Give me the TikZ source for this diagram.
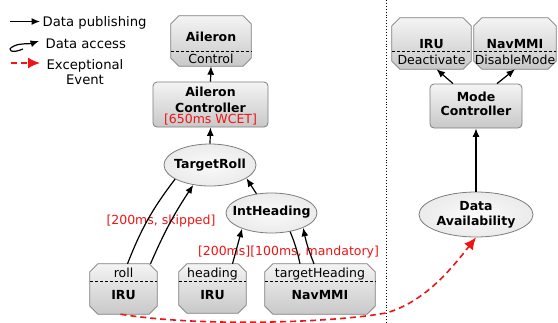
\documentclass[tikz,border=0pt]{standalone}
\usepackage{fontspec}
\setmainfont{DejaVu Sans}
\usetikzlibrary{shapes.geometric,arrows.meta}
\definecolor{edgegray}{RGB}{125,125,125}
\definecolor{shtop}{RGB}{244,244,244}
\definecolor{shbot}{RGB}{200,200,200}
\definecolor{exred}{RGB}{240,20,20}
\pgfdeclareradialshading{ellsh}{\pgfpoint{0bp}{0bp}}{color(0bp)=(gray!4); color(30bp)=(gray!18); color(50bp)=(gray!45)}
\newcommand\nf{\fontsize{12.5}{14}\selectfont}
\newcommand\lf{\fontsize{13.2}{15}\selectfont}
\newcommand\mkocto[5]{%
  \node[minimum width=#4pt, minimum height=#5pt, inner sep=0pt] (#1) at (#2,#3) {};
  \path[octbox] ([xshift=8pt]#1.north west) -- ([xshift=-8pt]#1.north east) -- ([yshift=-8pt]#1.north east) -- ([yshift=8pt]#1.south east) -- ([xshift=-8pt]#1.south east) -- ([xshift=8pt]#1.south west) -- ([yshift=8pt]#1.south west) -- ([yshift=-8pt]#1.north west) -- cycle;
}
\begin{document}
\begin{tikzpicture}[x=1pt,y=-1pt,
  octbox/.style={draw=edgegray, line width=0.8pt, top color=shtop, bottom color=shbot},
  rbox/.style={rectangle, rounded corners=4pt, draw=edgegray, line width=0.8pt, top color=shtop, bottom color=shbot, inner sep=0pt},
  ell/.style={ellipse, draw=edgegray, line width=0.8pt, shading=ellsh, inner sep=0pt},
  sepline/.style={line width=0.7pt, dash pattern=on 3pt off 2pt},
  tb/.style={font=\bfseries\nf, inner sep=0pt, anchor=base},
  tr/.style={font=\nf, inner sep=0pt, anchor=base},
  tred/.style={font=\nf, text=exred, inner sep=0pt, anchor=base},
  pub/.style={line width=1.2pt, -{Latex[length=8.5pt,width=7pt]}},
  accl/.style={line width=1.2pt},
  exc/.style={draw=exred, line width=1.6pt, dash pattern=on 6pt off 4pt, -{Latex[length=12pt,width=11pt]}, fill=none},
]
\useasboundingbox (0,0) rectangle (558,322);

% legend
\draw[pub] (10,21.5) -- (40,21.5);
\node[font=\lf, inner sep=0pt, anchor=base west] (lg1) at (42.5,26) {Data publishing};
\draw[pub] (23,49) .. controls (12,54) and (5,50) .. (14,46) .. controls (20,43) and (30,44) .. (39,41);
\node[font=\lf, inner sep=0pt, anchor=base west] (lg2) at (45.5,48.3) {Data access};
\draw[exc, exred] (11,63) -- (40,63);
\node[font=\lf, inner sep=0pt, anchor=base] (lg3) at (85,69) {Exceptional};
\node[font=\lf, inner sep=0pt, anchor=base] (lg4) at (85,84.3) {Event};

% separator
\draw[dotted, line width=0.9pt] (386,0) -- (386,322);

% Aileron
\mkocto{ail}{211}{41}{80}{50}
\draw[sepline] (ail.west |- 0,51) -- (ail.east |- 0,51);
\node[tb] (ailA) at (211,41.5) {Aileron};
\node[tr] (ailB) at (211,63) {Control};

% Aileron controller
\node[rbox, minimum width=115pt, minimum height=45pt] (ac) at (210.5,104.5) {};
\node[tb] (acA) at (210.5,96.5) {Aileron};
\node[tb] (acB) at (210.5,112) {Controller};
\node[tred] (acC) at (210.5,123) {[650ms WCET]};

% TargetRoll
\node[ell, minimum width=92pt, minimum height=42pt] (troll) at (210,165) {};
\node[tb] (trT) at (210,168.5) {TargetRoll};

% IntHeading
\node[ell, minimum width=91pt, minimum height=40pt] (ih) at (271.5,213) {};
\node[tb] (ihT) at (271.5,215.5) {IntHeading};

% bottom sources
\mkocto{roll}{123.5}{289}{67}{50}
\draw[sepline] (roll.west |- 0,281) -- (roll.east |- 0,281);
\node[tr] (rollA) at (123.5,277) {roll};
\node[tb] (rollB) at (123.5,299) {IRU};

\mkocto{hdg}{212.5}{288.5}{67}{49}
\draw[sepline] (hdg.west |- 0,281) -- (hdg.east |- 0,281);
\node[tr] (hdgA) at (212.5,277) {heading};
\node[tb] (hdgB) at (212.5,299) {IRU};

\mkocto{nav}{320}{289}{110}{50}
\draw[sepline] (nav.west |- 0,281) -- (nav.east |- 0,281);
\node[tr] (navA) at (320,277) {targetHeading};
\node[tb] (navB) at (320,299) {NavMMI};

% labels
\node[tred] (lab1) at (161,224) {[200ms, skipped]};
\node[tred] (lab2) at (288.5,255.5) {[200ms][100ms, mandatory]};

% connectors left
\draw[pub] (ac.north) -- (ail.south);
\draw[pub] (troll.north) -- (ac.south);
\draw[pub] (ih.128) -- (troll.-20);
\draw[accl] (troll.202) to[bend right=8] ([xshift=4pt]roll.north);
\draw[pub] ([xshift=27pt]roll.north) to[bend left=5] (troll.230);
\draw[pub] ([xshift=20pt]hdg.north) -- (ih.208);
\draw[accl] (ih.-45) to[bend left=5] ([xshift=-20pt]nav.north);
\draw[pub] ([xshift=-6pt]nav.north) to[bend left=5] (ih.-25);

% right side
\mkocto{iruR}{431.5}{43.5}{79}{51}
\draw[sepline] (iruR.west |- 0,51) -- (iruR.east |- 0,51);
\node[tb] (iruRA) at (431.5,48.5) {IRU};
\node[tr] (iruRB) at (431.5,64) {Deactivate};

\mkocto{navR}{515}{43.5}{82}{51}
\draw[sepline] (navR.west |- 0,51) -- (navR.east |- 0,51);
\node[tb] (navRA) at (515,48.5) {NavMMI};
\node[tr] (navRB) at (515,64) {DisableMode};

\node[rbox, minimum width=92pt, minimum height=44pt] (mc) at (476,106) {};
\node[tb] (mcA) at (476,101.5) {Mode};
\node[tb] (mcB) at (476,115) {Controller};

\node[ell, minimum width=114pt, minimum height=45pt] (da) at (476,214.5) {};
\node[tb] (daA) at (476,210.5) {Data};
\node[tb] (daB) at (476,225) {Availability};

\draw[pub] ([xshift=-23pt]mc.north) -- ([xshift=5pt]iruR.south);
\draw[pub] ([xshift=21pt]mc.north) -- (navR.south);
\draw[pub] (da.north) -- (mc.south);

% exceptional event
\coordinate (xing) at (386,313);
\draw[exc] ([xshift=-3pt]roll.south) .. controls (200,327) and (330,323) .. (xing) .. controls (425,302) and (452,268) .. (da.south);
\end{tikzpicture}
\end{document}
